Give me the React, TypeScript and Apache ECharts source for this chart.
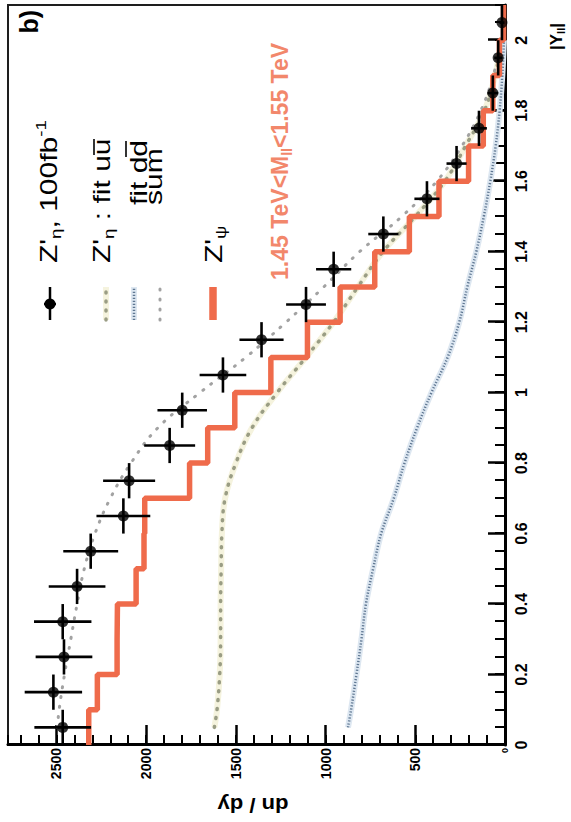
import React, { useEffect, useRef } from "react";
import * as echarts from "echarts";

// Canvas in the plot's own orientation; it is turned a quarter turn on the page.
const WIDTH = 822;
const HEIGHT = 571;
const FONT = '"Liberation Sans", Arial, Helvetica, sans-serif';

// Pseudo-data Z'_eta, 100 fb^-1: bin centres in |Y_ll|, dn/dy and statistical errors
const dataRapidity = [0.05, 0.15, 0.25, 0.35, 0.45, 0.55, 0.65, 0.75, 0.85, 0.95, 1.05, 1.15, 1.25, 1.35, 1.45, 1.55, 1.65, 1.75, 1.85, 1.95, 2.05];
const dataCounts = [2465, 2517, 2458, 2465, 2385, 2309, 2127, 2095, 1869, 1799, 1572, 1357, 1109, 955, 678, 435, 270, 145, 68, 38, 17];
const dataErrors = [158, 160, 158, 160, 158, 153, 150, 145, 142, 138, 130, 123, 111, 98, 84, 70, 56, 44, 30, 22, 14];
const binHalfWidth = 0.05;

// Z'_psi prediction: bin edges and contents
const psiBinEdges = [0, 0.1, 0.2, 0.3, 0.4, 0.5, 0.6, 0.7, 0.8, 0.9, 1.0, 1.1, 1.2, 1.3, 1.4, 1.5, 1.6, 1.7, 1.8, 1.9, 2.0, 2.1];
const psiCounts = [2320, 2272, 2162, 2160, 2056, 2012, 2008, 1758, 1657, 1506, 1305, 1101, 919, 726, 533, 368, 203, 121, 68, 31, 8];

// Fit of the Z'_eta sample: u-ubar and d-dbar components and their sum
const fitRapidity = [0.05, 0.1, 0.2, 0.3, 0.4, 0.5, 0.6, 0.7, 0.8, 0.9, 1.0, 1.1, 1.2, 1.3, 1.4, 1.5, 1.6, 1.7, 1.8, 1.9, 2.0];
const fitUU = [1620, 1605, 1590, 1585, 1585, 1582, 1578, 1560, 1500, 1410, 1270, 1110, 955, 820, 680, 500, 335, 220, 115, 55, 20];
const fitDD = [875, 858, 828, 800, 775, 735, 690, 620, 560, 490, 410, 320, 255, 210, 160, 118, 82, 52, 30, 15, 6];
const fitSum = [2495, 2485, 2455, 2420, 2385, 2345, 2285, 2200, 2085, 1935, 1700, 1445, 1220, 1010, 810, 575, 380, 240, 135, 65, 25];

// Axis ranges and tick spacing
const rapidityMax = 2.1;
const rapidityMajor = 0.2;
const rapidityMinor = 0.05;
const yieldMax = 2770;
const yieldMajor = 500;
const yieldMinor = 100;

const PSI_COLOR = "#ef6b4b";
const LABEL_ORANGE = "#f2876b";
const UU_COLOR = "#9a9d84";
const UU_HALO = "#f5f3de";
const DD_COLOR = "#5f7792";
const DD_HALO = "#dde7f1";
const SUM_COLOR = "#a2a2a2";

const pairs = (xs: number[], ys: number[]) => xs.map((x, i) => [x, ys[i]]);

const legendRich = {
  m: { fontSize: 24, lineHeight: 30, fontFamily: FONT, fill: "#000" },
  sub: { fontSize: 15, lineHeight: 15, verticalAlign: "bottom", fontFamily: FONT, fill: "#000" },
  sup: { fontSize: 15, lineHeight: 15, verticalAlign: "top", fontFamily: FONT, fill: "#000" },
};

const legendText = (text: string, x: number, baseline: number) => ({
  type: "text",
  x,
  y: baseline - 8.3,
  scaleX: 1.25,
  style: { text, rich: legendRich, align: "left", verticalAlign: "middle", fontFamily: FONT },
  z: 20,
});

const markerLine = (v: number, stroke: string, lineWidth: number, lineDash?: number[], cap = "round") => ({
  type: "line",
  shape: { x1: 502, y1: v, x2: 535, y2: v },
  style: { stroke, lineWidth, lineDash, lineCap: cap },
  z: 20,
});

const overline = (u0: number, u1: number, v: number) => ({
  type: "line",
  shape: { x1: u0, y1: v, x2: u1, y2: v },
  style: { stroke: "#000", lineWidth: 1.6 },
  z: 20,
});

const minorAxis = (max: number, interval: number, position: string, length: number) => ({
  type: "value",
  min: 0,
  max,
  interval,
  position,
  axisLine: { show: false },
  axisTick: { show: true, inside: true, length, lineStyle: { color: "#000", width: 2 } },
  axisLabel: { show: false },
  splitLine: { show: false },
});

const option = {
  animation: false,
  backgroundColor: "#fff",
  textStyle: { fontFamily: FONT },
  grid: { left: 77, right: 5, top: 8, bottom: 66, show: true, borderColor: "#1e1e1e", borderWidth: 2 },
  xAxis: [
    {
      type: "value",
      min: 0,
      max: rapidityMax,
      interval: rapidityMajor,
      position: "bottom",
      axisLine: { show: true, onZero: false, lineStyle: { color: "#000", width: 3 } },
      axisTick: { show: true, inside: true, length: 17, lineStyle: { color: "#000", width: 2.5 } },
      axisLabel: {
        margin: 8,
        fontSize: 16,
        fontWeight: "bold",
        color: "#000",
        fontFamily: FONT,
        showMaxLabel: false,
        formatter: (v: number) => String(Math.round(v * 10) / 10),
      },
      splitLine: { show: false },
    },
    minorAxis(rapidityMax, rapidityMinor, "bottom", 10),
  ],
  yAxis: [
    {
      type: "value",
      min: 0,
      max: yieldMax,
      interval: yieldMajor,
      position: "left",
      axisLine: { show: true, onZero: false, lineStyle: { color: "#000", width: 3 } },
      axisTick: { show: true, inside: true, length: 20, lineStyle: { color: "#000", width: 2.5 } },
      axisLabel: {
        margin: 3,
        fontSize: 14,
        fontWeight: "bold",
        color: "#000",
        fontFamily: FONT,
        showMaxLabel: false,
        formatter: (v: number) => (v === 0 ? "{z|0}" : String(v)),
        rich: { z: { fontSize: 9, fontWeight: "bold", fontFamily: FONT, color: "#000" } },
      },
      splitLine: { show: false },
    },
    minorAxis(yieldMax, yieldMinor, "left", 10),
  ],
  series: [
    {
      type: "line",
      silent: true,
      data: pairs(fitRapidity, fitUU),
      smooth: 0.4,
      symbol: "none",
      lineStyle: { color: UU_HALO, width: 6 },
      z: 1,
    },
    {
      type: "line",
      name: "fit uu",
      data: pairs(fitRapidity, fitUU),
      smooth: 0.4,
      symbol: "none",
      lineStyle: { color: UU_COLOR, width: 3.5, type: [1, 8], cap: "round" },
      z: 2,
    },
    {
      type: "line",
      silent: true,
      data: pairs(fitRapidity, fitDD),
      smooth: 0.4,
      symbol: "none",
      lineStyle: { color: DD_HALO, width: 6 },
      z: 1,
    },
    {
      type: "line",
      name: "fit dd",
      data: pairs(fitRapidity, fitDD),
      smooth: 0.4,
      symbol: "none",
      lineStyle: { color: DD_COLOR, width: 2.5, type: [1.2, 1.8] },
      z: 2,
    },
    {
      type: "line",
      name: "sum",
      data: pairs(fitRapidity, fitSum),
      smooth: 0.4,
      symbol: "none",
      lineStyle: { color: SUM_COLOR, width: 3, type: [1, 9], cap: "round" },
      z: 2,
    },
    {
      type: "line",
      name: "Z'psi",
      step: "end",
      data: psiBinEdges.map((e, i) => [e, psiCounts[Math.min(i, psiCounts.length - 1)]]),
      symbol: "none",
      lineStyle: { color: PSI_COLOR, width: 5.5 },
      z: 3,
    },
    {
      type: "custom",
      name: "errors",
      data: dataRapidity.map((x, i) => [x, dataCounts[i], dataErrors[i]]),
      encode: { x: 0, y: 1 },
      renderItem: (_params: any, api: any) => {
        const x = api.value(0);
        const y = api.value(1);
        const e = api.value(2);
        const l = api.coord([x - binHalfWidth, y]);
        const r = api.coord([x + binHalfWidth, y]);
        const lo = api.coord([x, Math.max(0, y - e)]);
        const hi = api.coord([x, y + e]);
        const st = { stroke: "#000", lineWidth: 2.6 };
        return {
          type: "group",
          children: [
            { type: "line", shape: { x1: l[0], y1: l[1], x2: r[0], y2: r[1] }, style: st },
            { type: "line", shape: { x1: lo[0], y1: lo[1], x2: hi[0], y2: hi[1] }, style: st },
          ],
        };
      },
      z: 5,
    },
    {
      type: "scatter",
      name: "data",
      data: pairs(dataRapidity, dataCounts),
      symbol: "circle",
      symbolSize: 11,
      itemStyle: { color: "#000" },
      z: 6,
    },
  ],
  graphic: [
    // legend markers
    markerLine(50, "#000", 2.5, undefined, "butt"),
    { type: "line", shape: { x1: 518, y1: 44, x2: 518, y2: 56 }, style: { stroke: "#000", lineWidth: 2.5 }, z: 20 },
    { type: "circle", shape: { cx: 518, cy: 50, r: 5.5 }, style: { fill: "#000" }, z: 21 },
    markerLine(106, UU_HALO, 6, undefined, "butt"),
    markerLine(106, UU_COLOR, 3.5, [1, 8]),
    markerLine(134, DD_HALO, 6, undefined, "butt"),
    markerLine(134, DD_COLOR, 2.5, [1.2, 1.8], "butt"),
    markerLine(160, SUM_COLOR, 3, [1, 9]),
    markerLine(213, PSI_COLOR, 7.5, undefined, "butt"),
    // legend texts
    legendText("{m|Z'}{sub|η}{m|, 100fb}{sup|-1}", 559, 57),
    legendText("{m|Z'}{sub|η}{m| : fit uu}", 559, 110),
    overline(667, 683, 94),
    legendText("{m|fit dd}", 617, 147),
    overline(665, 681, 126),
    legendText("{m|sum}", 617, 162),
    legendText("{m|Z'}{sub|ψ}", 559, 222),
    // mass window
    {
      type: "text",
      x: 542,
      y: 280,
      style: {
        text: "{o|1.45 TeV<M}{os|ll}{o|<1.55 TeV}",
        rich: {
          o: { fontSize: 23, fontWeight: "bold", lineHeight: 28, fill: LABEL_ORANGE, fontFamily: FONT },
          os: { fontSize: 14, fontWeight: "bold", lineHeight: 14, verticalAlign: "bottom", fill: LABEL_ORANGE, fontFamily: FONT },
        },
        fill: LABEL_ORANGE,
        align: "left",
        verticalAlign: "middle",
      },
      z: 20,
    },
    // panel label
    {
      type: "text",
      x: 812,
      y: 29,
      style: { text: "b)", fontSize: 25, fontWeight: "bold", fill: "#000", align: "right", verticalAlign: "middle", fontFamily: FONT },
      z: 20,
    },
    // axis titles
    {
      type: "text",
      x: 772,
      y: 556,
      style: {
        text: "{a||Y}{s|ll}{a||}",
        rich: {
          a: { fontSize: 17, fontWeight: "bold", lineHeight: 20, fill: "#000", fontFamily: FONT },
          s: { fontSize: 11, fontWeight: "bold", lineHeight: 11, verticalAlign: "bottom", fill: "#000", fontFamily: FONT },
        },
        align: "left",
        verticalAlign: "middle",
      },
      z: 20,
    },
    {
      type: "text",
      x: 17,
      y: 253,
      rotation: Math.PI / 2,
      scaleX: 1.1,
      style: { text: "dn / dy", fontSize: 20, fontWeight: "bold", fill: "#000", align: "center", verticalAlign: "middle", fontFamily: FONT },
      z: 20,
    },
  ],
};

export default function App() {
  const ref = useRef<HTMLDivElement>(null);
  useEffect(() => {
    if (!ref.current) return;
    const chart = echarts.init(ref.current, null, { renderer: "svg", width: WIDTH, height: HEIGHT });
    chart.setOption(option as any);
    return () => chart.dispose();
  }, []);
  return (
    <div style={{ position: "fixed", left: 0, top: 0, width: HEIGHT, height: WIDTH, overflow: "hidden", background: "#fff" }}>
      <div
        ref={ref}
        style={{
          position: "absolute",
          left: 0,
          top: 0,
          width: WIDTH,
          height: HEIGHT,
          transformOrigin: "0 0",
          transform: `translateY(${WIDTH}px) rotate(-90deg)`,
        }}
      />
    </div>
  );
}
